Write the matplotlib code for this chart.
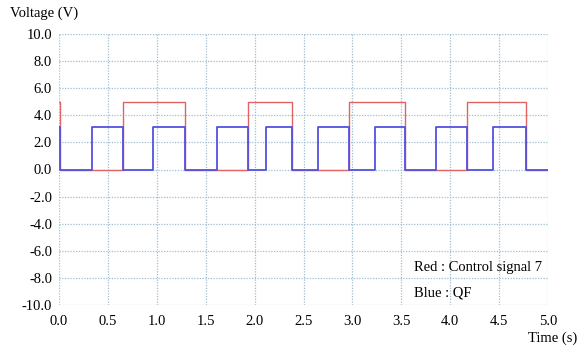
import matplotlib
matplotlib.use("Agg")
import matplotlib.pyplot as plt
import numpy as np

red_t = [0.0, 0.01, 0.657, 1.288, 1.936, 2.385, 2.968, 3.538, 4.175, 4.772, 5.0]
red_v = [5.0, 0.0, 5.0, 0.0, 5.0, 0.0, 5.0, 0.0, 5.0, 0.0, 0.0]
blue_t = [0.0, 0.01, 0.334, 0.657, 0.964, 1.288, 1.612, 1.936, 2.113, 2.385,
          2.652, 2.968, 3.231, 3.538, 3.852, 4.175, 4.441, 4.772, 5.0]
blue_v = [3.1, 0.0, 3.1, 0.0, 3.1, 0.0, 3.1, 0.0, 3.1, 0.0,
          3.1, 0.0, 3.1, 0.0, 3.1, 0.0, 3.1, 0.0, 0.0]
x_ticks = [0.0, 0.5, 1.0, 1.5, 2.0, 2.5, 3.0, 3.5, 4.0, 4.5, 5.0]
y_ticks = [-10.0, -8.0, -6.0, -4.0, -2.0, 0.0, 2.0, 4.0, 6.0, 8.0, 10.0]

plt.rcParams['font.family'] = ['Liberation Serif', 'DejaVu Serif']
fig = plt.figure(figsize=(5.79, 3.51), dpi=100)
ax = fig.add_axes([59/579, 46/351, 489/579, 271/351])

ax.plot(red_t, red_v, drawstyle='steps-post', color='#e06464', lw=1.0, zorder=3)
ax.plot(blue_t, blue_v, drawstyle='steps-post', color='#5252e0', lw=1.3, zorder=4)

ax.set_xlim(0, 5)
ax.set_ylim(-10, 10)
ax.set_xticks(x_ticks)
ax.set_yticks(y_ticks)
ax.set_xticklabels([f"{v:.1f}" for v in x_ticks], fontsize=10.5)
ax.set_yticklabels([f"{v:.1f}" for v in y_ticks], fontsize=10.5)
ax.tick_params(axis='x', length=0, pad=7)
ax.tick_params(axis='y', length=0, pad=5)
for s in ax.spines.values():
    s.set_visible(False)
ax.grid(True, linestyle=(0, (1, 1.2)), color='#9fbfd0', lw=0.9)
ax.set_axisbelow(True)

fig.text(10/579, 1 - 13/351, "Voltage (V)", fontsize=10.5, ha='left', va='center')
fig.text(577/579, 1 - 338/351, "Time (s)", fontsize=10.5, ha='right', va='center')
fig.text(414/579, 1 - 268/351, "Red : Control signal 7", fontsize=10.5, ha='left', va='center')
fig.text(414/579, 1 - 293/351, "Blue : QF", fontsize=10.5, ha='left', va='center')

fig.savefig("out.png", dpi=100)
